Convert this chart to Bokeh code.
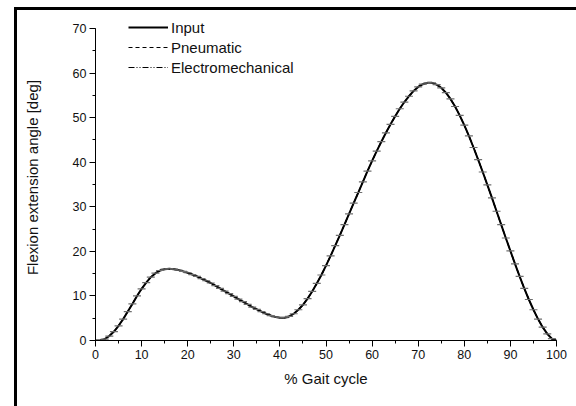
from bokeh.plotting import figure
from bokeh.models import SingleIntervalTicker, Legend, LegendItem, Range1d, Div, Spacer
from bokeh.layouts import row, column
from bokeh.embed import file_html
from bokeh.resources import INLINE

gait = list(range(0, 101))
input_angle = [0.0, 0.0, 0.3, 1.0, 2.0, 3.3, 4.8, 6.5, 8.2, 10.0,
               11.6, 13.0, 14.2, 15.1, 15.7, 16.0, 16.1, 16.0, 15.8, 15.5,
               15.2, 14.8, 14.4, 13.9, 13.4, 12.9, 12.3, 11.7, 11.1, 10.5,
               9.9, 9.3, 8.7, 8.1, 7.5, 7.0, 6.5, 6.0, 5.6, 5.3,
               5.1, 5.1, 5.4, 6.0, 6.9, 8.0, 9.4, 11.0, 12.8, 14.7,
               16.8, 19.0, 21.3, 23.6, 26.0, 28.4, 30.8, 33.2, 35.6, 38.0,
               40.3, 42.5, 44.6, 46.6, 48.5, 50.3, 52.0, 53.5, 54.8, 56.0,
               56.9, 57.5, 57.8, 57.8, 57.4, 56.7, 55.6, 54.2, 52.5, 50.5,
               48.3, 45.9, 43.3, 40.6, 37.8, 34.9, 32.0, 29.0, 26.0, 23.0,
               20.1, 17.2, 14.4, 11.7, 9.2, 6.9, 4.8, 3.0, 1.5, 0.4, 0.0]
pneumatic_angle = [0.0, 0.0, 0.3, 1.0, 2.0, 3.3, 4.8, 6.5, 8.2, 10.0,
                   11.6, 13.0, 14.2, 15.1, 15.7, 16.0, 16.1, 16.0, 15.8, 15.5,
                   15.2, 14.8, 14.4, 13.9, 13.4, 12.9, 12.3, 11.7, 11.1, 10.5,
                   9.9, 9.3, 8.7, 8.1, 7.5, 7.0, 6.5, 6.0, 5.6, 5.3,
                   5.1, 5.1, 5.4, 6.0, 6.9, 8.0, 9.4, 11.0, 12.8, 14.7,
                   16.8, 19.0, 21.3, 23.6, 26.0, 28.4, 30.8, 33.2, 35.6, 38.0,
                   40.3, 42.5, 44.6, 46.6, 48.5, 50.3, 52.0, 53.5, 54.8, 56.0,
                   56.9, 57.5, 57.8, 57.8, 57.4, 56.7, 55.6, 54.2, 52.5, 50.5,
                   48.3, 45.9, 43.3, 40.6, 37.8, 34.9, 32.0, 29.0, 26.0, 23.0,
                   20.1, 17.2, 14.4, 11.7, 9.2, 6.9, 4.8, 3.0, 1.5, 0.4, 0.0]
electro_angle = [0.0, 0.0, 0.3, 1.0, 2.0, 3.3, 4.8, 6.5, 8.2, 10.0,
                 11.6, 13.0, 14.2, 15.1, 15.7, 16.0, 16.1, 16.0, 15.8, 15.5,
                 15.2, 14.8, 14.4, 13.9, 13.4, 12.9, 12.3, 11.7, 11.1, 10.5,
                 9.9, 9.3, 8.7, 8.1, 7.5, 7.0, 6.5, 6.0, 5.6, 5.3,
                 5.1, 5.1, 5.4, 6.0, 6.9, 8.0, 9.4, 11.0, 12.8, 14.7,
                 16.8, 19.0, 21.3, 23.6, 26.0, 28.4, 30.8, 33.2, 35.6, 38.0,
                 40.3, 42.5, 44.6, 46.6, 48.5, 50.3, 52.0, 53.5, 54.8, 56.0,
                 56.9, 57.5, 57.8, 57.8, 57.4, 56.7, 55.6, 54.2, 52.5, 50.5,
                 48.3, 45.9, 43.3, 40.6, 37.8, 34.9, 32.0, 29.0, 26.0, 23.0,
                 20.1, 17.2, 14.4, 11.7, 9.2, 6.9, 4.8, 3.0, 1.5, 0.4, 0.0]

FONT = "Liberation Sans"

p = figure(output_backend="svg", toolbar_location=None,
           frame_width=461, frame_height=326,
           x_range=Range1d(0, 100), y_range=Range1d(0, 73.14),
           min_border_left=78, min_border_top=4, min_border_right=12, min_border_bottom=50)
p.outline_line_color = None
p.xgrid.visible = False
p.ygrid.visible = False

r_in = p.line(gait, input_angle, line_color="black", line_width=2)
r_pn = p.line(gait, pneumatic_angle, line_color="black", line_width=1.2, line_dash="4 3")
r_el = p.line(gait, electro_angle, line_color="black", line_width=1.2, line_dash="6 2 1 2 1 2")
p.scatter(gait, electro_angle, marker="dash", size=8, line_color="#6e6e6e", line_width=1.2)

for ax, lab in ((p.xaxis[0], "% Gait cycle"), (p.yaxis[0], "Flexion extension angle [deg]")):
    ax.axis_label = lab
    ax.axis_label_text_font = FONT
    ax.axis_label_text_font_size = "15px"
    ax.axis_label_text_font_style = "normal"
    ax.axis_label_text_color = "#111111"
    ax.major_label_text_font = FONT
    ax.major_label_text_font_size = "12.5px"
    ax.major_label_text_color = "#111111"
    ax.major_tick_in = 0
    ax.major_tick_out = 6
    ax.minor_tick_in = 0
    ax.minor_tick_out = 3
    ax.axis_line_width = 1
    ax.major_label_standoff = 3
p.xaxis[0].ticker = SingleIntervalTicker(interval=10, num_minor_ticks=2)
p.yaxis[0].ticker = SingleIntervalTicker(interval=10, num_minor_ticks=2)
p.xaxis[0].bounds = (0, 100)
p.yaxis[0].bounds = (0, 70)
p.xaxis[0].axis_label_standoff = 8
p.yaxis[0].axis_label_standoff = 29

legend = Legend(items=[LegendItem(label="Input", renderers=[r_in]),
                       LegendItem(label="Pneumatic", renderers=[r_pn]),
                       LegendItem(label="Electromechanical", renderers=[r_el])],
                location=(33, 263), padding=0, margin=0, border_line_color=None,
                background_fill_alpha=0, glyph_width=40, glyph_height=20,
                label_height=20, spacing=0, label_standoff=3,
                label_text_font=FONT, label_text_font_size="15px",
                label_text_color="#111111")
p.add_layout(legend)

top_line = Div(text="", width=562, height=3, margin=0, styles={"background-color": "black"})
left_line = Div(text="", width=3, height=396, margin=0, styles={"background-color": "black"})
layout = column(
    Spacer(width=10, height=7, margin=0),
    row(Spacer(width=14, height=3, margin=0),
        column(top_line, row(left_line, p, spacing=0), spacing=0), spacing=0),
    spacing=0)

open("out.html", "w").write(file_html(layout, INLINE))
